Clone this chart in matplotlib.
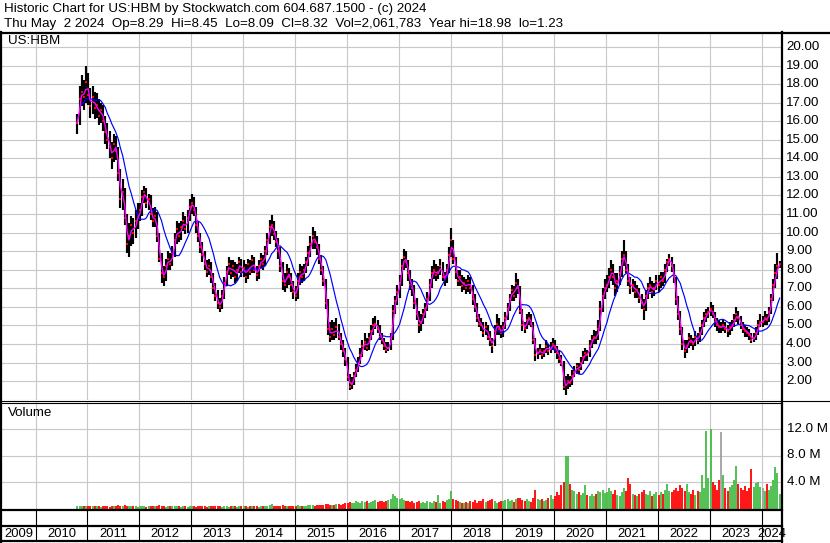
import matplotlib
matplotlib.use('Agg')
import matplotlib.pyplot as plt
import matplotlib.transforms as mtransforms
import matplotlib.dates as mdates
from matplotlib.lines import Line2D
import pandas as pd
import datetime as dt

plt.rcParams['font.family'] = ['Liberation Sans', 'DejaVu Sans']

# ---------------- text ----------------
title_line1 = "Historic Chart for US:HBM by Stockwatch.com 604.687.1500 - (c) 2024"
title_line2 = ("Thu May  2 2024  Op=8.29  Hi=8.45  Lo=8.09  Cl=8.32  "
               "Vol=2,061,783  Year hi=18.98  lo=1.23")
symbol = "US:HBM"
volume_title = "Volume"
year_labels = list(range(2009, 2025))
price_ticks = list(range(2, 21))
vol_ticks = [4.0, 8.0, 12.0]
vol_tick_labels = ["4.0 M", "8.0 M", "12.0 M"]

# ---------------- data (semi-monthly) ----------------
first_date = "2010-10-15"
last_date = "2024-05-01"

close = [
    15.9, 17.2, 17.6, 17.3, 18.1,  # 2010
    17.4, 16.8, 17.3, 16.7, 16.9, 16.3, 16.6, 16.0, 15.4, 15.0, 14.6, 14.0, 14.8, 14.4, 13.2, 11.8, 12.2, 10.8, 9.4, 9.8, 10.4, 10.0, 10.6, 10.9,  # 2011
    11.2, 11.9, 12.2, 11.6, 11.8, 11.0, 10.6, 10.9, 9.8, 8.6, 7.8, 7.6, 8.2, 8.6, 8.3, 8.9, 9.6, 10.2, 9.8, 10.3, 10.6, 10.2, 10.8, 11.4,  # 2012
    11.6, 11.2, 10.4, 9.8, 9.2, 8.8, 8.3, 7.9, 8.2, 7.6, 7.0, 6.6, 6.2, 6.0, 6.6, 7.3, 7.9, 8.3, 7.8, 8.2, 7.6, 8.0, 8.4, 7.9,  # 2013
    8.1, 7.6, 8.3, 7.9, 8.5, 8.0, 7.7, 8.2, 8.6, 8.3, 9.0, 9.6, 10.3, 10.4, 9.9, 9.5, 9.0, 8.2, 7.4, 7.2, 7.9, 7.6, 7.2, 6.8,  # 2014
    6.6, 7.4, 7.9, 7.6, 8.0, 8.4, 8.9, 9.4, 9.8, 9.5, 9.2, 8.6, 8.0, 7.4, 6.2, 4.8, 4.4, 4.8, 4.5, 4.9, 4.4, 4.0, 3.6, 3.2,  # 2015
    2.2, 1.7, 1.9, 2.3, 2.6, 3.0, 3.4, 3.9, 4.1, 3.8, 4.3, 4.7, 5.0, 5.1, 4.8, 4.4, 4.2, 3.9, 3.7, 3.8, 4.3, 5.8, 6.3, 6.8,  # 2016
    7.3, 8.2, 8.7, 8.4, 7.8, 7.2, 7.0, 6.2, 5.6, 5.0, 5.2, 5.6, 5.9, 6.4, 7.2, 7.8, 8.0, 7.7, 7.9, 8.2, 7.6, 7.5, 8.0, 8.8,  # 2017
    9.6, 8.6, 7.9, 7.4, 7.6, 7.1, 7.3, 7.0, 7.4, 7.0, 6.4, 6.0, 5.4, 5.1, 5.0, 4.6, 4.9, 4.4, 4.2, 3.9, 4.7, 5.1, 4.8, 4.6,  # 2018
    4.9, 5.4, 5.9, 6.4, 6.9, 6.6, 7.3, 7.0, 5.8, 5.0, 4.8, 5.3, 5.4, 5.1, 4.2, 3.4, 3.5, 3.7, 3.4, 3.6, 3.9, 3.6, 3.8, 4.0,  # 2019
    3.8, 3.5, 3.2, 3.0, 1.7, 1.8, 2.0, 1.9, 2.3, 2.5, 2.8, 2.6, 3.0, 3.3, 3.5, 3.4, 3.9, 4.2, 4.4, 4.3, 4.8, 5.9, 6.6, 7.0,  # 2020
    7.2, 7.6, 8.0, 7.6, 7.0, 7.4, 7.8, 8.6, 8.8, 8.0, 7.4, 7.0, 7.2, 6.8, 6.9, 6.5, 6.2, 5.9, 6.6, 7.0, 7.2, 6.8, 7.0, 7.4,  # 2021
    7.2, 7.6, 7.4, 8.0, 8.4, 8.6, 8.2, 7.6, 6.4, 5.6, 4.8, 4.0, 3.6, 3.9, 4.3, 4.1, 4.0, 4.4, 4.2, 4.6, 5.0, 5.4, 5.6, 5.7,  # 2022
    5.9, 5.6, 5.2, 5.0, 4.9, 4.9, 5.0, 4.8, 4.7, 4.9, 5.0, 5.3, 5.6, 5.4, 5.0, 4.8, 4.7, 4.6, 4.5, 4.2, 4.3, 4.6, 5.0, 5.2,  # 2023
    5.2, 5.4, 5.3, 5.7, 6.4, 7.2, 7.8, 8.2, 8.32,  # 2024
]

high = [
    16.4, 17.9, 18.5, 18.2, 18.98,
    18.6, 17.8, 17.9, 17.6, 17.5, 17.2, 17.0, 16.9, 16.3, 15.9, 15.5, 14.9, 15.3, 15.2, 14.6, 13.4, 12.9, 12.4, 11.0, 10.5, 10.9, 10.8, 11.2, 11.6,
    11.6, 12.3, 12.5, 12.4, 12.1, 12.0, 11.3, 11.4, 11.1, 10.0, 8.9, 8.2, 8.6, 9.0, 8.9, 9.3, 10.0, 10.6, 10.5, 10.6, 11.1, 10.9, 11.2, 11.8,
    12.1, 11.9, 11.4, 10.6, 10.0, 9.5, 9.0, 8.5, 8.6, 8.4, 7.8, 7.3, 6.9, 6.5, 6.9, 7.6, 8.2, 8.7, 8.5, 8.5, 8.4, 8.3, 8.7, 8.6,
    8.5, 8.3, 8.6, 8.5, 8.8, 8.7, 8.2, 8.5, 8.9, 8.8, 9.3, 10.0, 10.7, 10.95, 10.6, 10.1, 9.7, 9.2, 8.4, 7.8, 8.3, 8.1, 7.8, 7.4,
    7.1, 7.8, 8.3, 8.2, 8.3, 8.7, 9.3, 9.8, 10.3, 10.1, 9.8, 9.4, 8.8, 8.2, 7.5, 6.4, 5.2, 5.3, 5.2, 5.4, 5.1, 4.6, 4.2, 3.8,
    3.3, 2.4, 2.2, 2.5, 2.9, 3.3, 3.8, 4.2, 4.6, 4.3, 4.6, 5.0, 5.4, 5.5, 5.3, 5.0, 4.6, 4.3, 4.1, 4.1, 4.6, 6.1, 6.6, 7.2,
    7.7, 8.6, 9.1, 9.0, 8.5, 8.0, 7.5, 7.2, 6.5, 5.8, 5.6, 5.9, 6.2, 6.8, 7.5, 8.2, 8.5, 8.3, 8.2, 8.6, 8.4, 7.9, 8.3, 9.2,
    10.25, 9.6, 8.7, 8.0, 8.0, 7.7, 7.6, 7.5, 7.7, 7.6, 7.2, 6.7, 6.2, 5.6, 5.4, 5.2, 5.2, 5.0, 4.7, 4.3, 5.0, 5.6, 5.4, 5.0,
    5.2, 5.7, 6.2, 6.7, 7.2, 7.1, 7.8, 7.5, 7.1, 5.9, 5.2, 5.6, 5.7, 5.6, 5.2, 4.3, 3.8, 4.0, 3.8, 3.8, 4.2, 4.0, 4.1, 4.3,
    4.2, 3.9, 3.6, 3.4, 3.1, 2.3, 2.4, 2.3, 2.6, 2.8, 3.0, 3.0, 3.3, 3.6, 3.8, 3.7, 4.2, 4.5, 4.75, 4.7, 5.3, 6.3, 7.0, 7.5,
    7.7, 8.1, 8.5, 8.3, 7.8, 7.8, 8.2, 9.0, 9.6, 9.0, 8.3, 7.6, 7.5, 7.4, 7.2, 7.0, 6.7, 6.4, 6.9, 7.3, 7.6, 7.4, 7.3, 7.7,
    7.7, 7.9, 7.9, 8.3, 8.6, 8.85, 8.7, 8.3, 7.6, 6.6, 5.8, 4.9, 4.2, 4.2, 4.6, 4.5, 4.3, 4.7, 4.6, 4.9, 5.3, 5.7, 5.9, 6.0,
    6.26, 6.1, 5.7, 5.4, 5.3, 5.2, 5.3, 5.2, 5.0, 5.2, 5.3, 5.6, 6.0, 5.8, 5.5, 5.2, 5.0, 4.9, 4.8, 4.6, 4.6, 4.9, 5.3, 5.6,
    5.5, 5.8, 5.6, 6.0, 6.7, 7.5, 8.3, 8.9, 8.45,
]

low = [
    15.3, 15.8, 16.8, 16.6, 17.0,
    16.9, 16.2, 16.4, 16.1, 16.2, 15.8, 15.9, 15.5, 14.8, 14.5, 14.0, 13.4, 13.8, 13.9, 12.8, 11.3, 11.2, 10.4, 8.9, 8.7, 9.3, 9.4, 9.7, 10.2,
    10.6, 10.9, 11.6, 11.3, 11.2, 10.7, 10.3, 10.3, 9.5, 8.4, 7.3, 7.1, 7.4, 8.0, 8.0, 8.2, 8.7, 9.4, 9.5, 9.6, 10.1, 9.9, 10.0, 10.6,
    11.0, 10.9, 10.0, 9.5, 8.9, 8.4, 8.0, 7.6, 7.7, 7.3, 6.7, 6.3, 5.9, 5.7, 5.9, 6.4, 7.1, 7.7, 7.5, 7.6, 7.3, 7.4, 7.8, 7.6,
    7.6, 7.3, 7.5, 7.7, 7.8, 7.8, 7.4, 7.5, 8.1, 8.0, 8.2, 8.8, 9.4, 9.8, 9.6, 9.2, 8.6, 7.9, 6.9, 6.8, 7.0, 7.2, 6.8, 6.4,
    6.3, 6.4, 7.2, 7.3, 7.4, 7.8, 8.2, 8.7, 9.1, 9.1, 8.8, 8.3, 7.7, 7.1, 5.9, 4.5, 4.1, 4.2, 4.2, 4.3, 4.2, 3.7, 3.3, 2.8,
    2.0, 1.5, 1.6, 1.8, 2.2, 2.5, 2.9, 3.3, 3.7, 3.6, 3.7, 4.2, 4.5, 4.8, 4.6, 4.2, 4.0, 3.7, 3.5, 3.6, 3.7, 4.2, 5.6, 6.1,
    6.5, 7.1, 8.0, 8.1, 7.4, 6.9, 6.6, 5.9, 5.3, 4.6, 4.7, 5.1, 5.4, 5.8, 6.3, 7.0, 7.5, 7.4, 7.5, 7.7, 7.4, 7.1, 7.3, 7.8,
    8.7, 8.3, 7.5, 7.1, 7.1, 6.8, 6.9, 6.7, 6.8, 6.7, 6.1, 5.7, 5.2, 4.9, 4.7, 4.4, 4.5, 4.2, 3.9, 3.5, 3.9, 4.5, 4.5, 4.3,
    4.4, 4.8, 5.3, 5.8, 6.3, 6.3, 6.5, 6.7, 5.6, 4.7, 4.6, 4.8, 5.0, 4.9, 4.0, 3.1, 3.2, 3.4, 3.2, 3.3, 3.5, 3.4, 3.5, 3.7,
    3.5, 3.2, 3.0, 2.8, 1.5, 1.25, 1.6, 1.7, 1.8, 2.2, 2.4, 2.4, 2.6, 2.9, 3.1, 3.1, 3.3, 3.8, 4.0, 4.0, 4.2, 4.7, 5.7, 6.4,
    6.8, 7.0, 7.4, 7.2, 6.6, 6.8, 7.2, 7.6, 8.2, 7.8, 7.1, 6.7, 6.8, 6.5, 6.5, 6.2, 5.9, 5.3, 5.8, 6.4, 6.8, 6.5, 6.6, 6.9,
    6.8, 7.0, 7.1, 7.3, 7.9, 8.2, 7.9, 7.3, 6.1, 5.3, 4.5, 3.7, 3.25, 3.5, 3.8, 3.9, 3.7, 3.9, 4.0, 4.1, 4.5, 4.9, 5.2, 5.4,
    5.5, 5.4, 4.9, 4.7, 4.6, 4.6, 4.7, 4.6, 4.4, 4.5, 4.7, 4.9, 5.2, 5.1, 4.8, 4.6, 4.4, 4.4, 4.2, 4.05, 4.1, 4.2, 4.5, 4.9,
    4.9, 5.0, 5.0, 5.2, 5.6, 6.3, 7.0, 7.5, 8.09,
]

volume_m = [
    0.25, 0.35, 0.3, 0.25, 0.3,
    0.3, 0.25, 0.3, 0.35, 0.3, 0.25, 0.2, 0.3, 0.25, 0.3, 0.2, 0.25, 0.3, 0.25, 0.4, 0.35, 0.3, 0.4, 0.35, 0.3, 0.25, 0.3, 0.25, 0.2,
    0.3, 0.25, 0.3, 0.2, 0.25, 0.3, 0.35, 0.25, 0.3, 0.4, 0.3, 0.25, 0.2, 0.3, 0.25, 0.3, 0.35, 0.3, 0.25, 0.2, 0.3, 0.25, 0.2, 0.3,
    0.25, 0.3, 0.2, 0.25, 0.3, 0.25, 0.3, 0.2, 0.25, 0.3, 0.35, 0.3, 0.25, 0.3, 0.2, 0.25, 0.3, 0.2, 0.25, 0.3, 0.25, 0.2, 0.3, 0.25,
    0.3, 0.25, 0.2, 0.3, 0.25, 0.3, 0.25, 0.2, 0.3, 0.25, 0.3, 0.35, 0.4, 0.6, 0.35, 0.3, 0.3, 0.35, 0.4, 0.3, 0.35, 0.3, 0.35, 0.3,
    0.35, 0.4, 0.3, 0.35, 0.3, 0.35, 0.4, 0.45, 0.4, 0.35, 0.4, 0.4, 0.45, 0.5, 0.6, 0.55, 0.5, 0.45, 0.5, 0.55, 0.6, 0.5, 0.6, 0.7,
    0.8, 0.9, 0.7, 0.8, 1.0, 0.9, 0.8, 1.0, 0.9, 1.1, 0.8, 0.9, 1.0, 1.2, 0.9, 1.0, 1.1, 0.9, 1.0, 1.2, 1.4, 2.2, 1.8, 1.6,
    1.3, 1.5, 1.2, 1.0, 1.1, 0.9, 1.0, 0.8, 0.9, 1.1, 0.8, 0.9, 0.8, 1.0, 0.9, 0.8, 1.0, 0.9, 2.0, 0.8, 1.0, 0.9, 1.2, 1.4,
    2.6, 1.4, 1.2, 1.0, 0.9, 0.8, 0.7, 0.9, 0.8, 1.0, 0.9, 1.2, 0.8, 1.1, 1.0, 1.3, 0.9, 1.0, 1.2, 1.4, 1.0, 0.8, 0.9, 1.1,
    1.0, 1.2, 1.4, 1.1, 1.2, 0.9, 1.3, 1.5, 1.6, 1.2, 1.0, 1.3, 1.1, 0.9, 1.6, 2.7, 1.4, 1.2, 1.3, 1.0, 1.2, 1.6, 2.0, 1.4,
    1.8, 2.4, 2.0, 3.5, 4.0, 7.9, 7.9, 3.7, 2.8, 2.6, 2.2, 2.5, 2.0, 2.3, 3.5, 2.0, 1.8, 2.1, 1.9, 2.2, 2.6, 2.4, 2.8, 2.3,
    2.4, 3.0, 2.6, 2.2, 2.8, 2.0, 1.8, 2.4, 3.0, 2.6, 4.6, 3.7, 2.2, 2.0, 1.8, 2.2, 2.4, 2.8, 2.2, 2.0, 2.6, 1.8, 2.2, 2.4,
    2.0, 2.4, 2.2, 2.8, 3.7, 2.6, 2.4, 2.8, 3.0, 2.6, 3.5, 3.0, 2.6, 3.7, 2.4, 2.2, 2.8, 2.0, 2.6, 2.4, 5.0, 3.0, 11.7, 4.5,
    12.0, 4.0, 3.5, 2.8, 4.2, 11.6, 5.0, 3.0, 2.6, 3.2, 3.5, 4.2, 6.4, 3.6, 3.0, 2.8, 3.4, 2.6, 3.0, 6.0, 3.2, 3.8, 4.0, 3.2,
    3.0, 2.6, 3.7, 2.8, 3.4, 4.2, 6.2, 5.3, 2.1,
]

# ---------------- geometry ----------------
W, H = 830, 543
fig = plt.figure(figsize=(W / 100, H / 100), dpi=100)
fig.patch.set_facecolor('white')

def fx(px):
    return px / W

def fy(py):
    return 1 - py / H

X0, X1 = 2, 781
P_TOP, P_BOT = 33, 400
V_TOP, V_BOT = 402, 509

dates = pd.date_range(first_date, last_date, freq='SMS') + pd.Timedelta(days=5)
s_close = pd.Series(close, index=dates)
ma_short = s_close.rolling(2, min_periods=1).mean()
ma_long = s_close.rolling(10, min_periods=3).mean()

xlim = (dt.datetime(2009, 5, 9), dt.datetime(2024, 5, 15))
x0n, x1n = mdates.date2num(xlim[0]), mdates.date2num(xlim[1])
year_starts = [dt.datetime(y, 1, 1) for y in range(2010, 2025)]
grid_c = '#c8c8c8'

# ---- price panel ----
ax = fig.add_axes([fx(X0), fy(P_BOT), (X1 - X0) / W, (P_BOT - P_TOP) / H])
ax.set_xlim(x0n, x1n)
ax.set_ylim(0.981, 20.754)
for v in range(1, 21):
    ax.axhline(v, color=grid_c, lw=0.8, zorder=0)
for d in year_starts:
    ax.axvline(mdates.date2num(d), color=grid_c, lw=0.8, zorder=0)
xd = mdates.date2num(dates.to_pydatetime())
ax.vlines(xd, low, high, color='black', lw=1.55, zorder=2)
ax.plot(xd, close, ls='none', marker='s', ms=1.6, mew=0, color='red', zorder=3)
ax.plot(xd, ma_long.values, color='#0000ff', lw=0.85, zorder=4)
ax.plot(xd, ma_short.values, color='#ff00ff', lw=1.0, zorder=5)
ax.axis('off')

# ---- volume panel ----
axv = fig.add_axes([fx(X0), fy(V_BOT), (X1 - X0) / W, (V_BOT - V_TOP) / H])
axv.set_xlim(x0n, x1n)
vbase = -0.15
axv.set_ylim(vbase, 16.15)
for v in vol_ticks:
    axv.axhline(v, color=grid_c, lw=0.8, zorder=0)
for d in year_starts:
    axv.axvline(mdates.date2num(d), color=grid_c, lw=0.8, zorder=0)
vcolors = []
for i, c in enumerate(close):
    if i == 0 or c > close[i - 1]:
        vcolors.append('#44bb44')
    elif c < close[i - 1]:
        vcolors.append('#ff0000')
    else:
        vcolors.append('#a0a0a0')
axv.vlines(xd, vbase, volume_m, colors=vcolors, lw=1.3, zorder=2)
axv.axis('off')

# ---- tick labels on the right ----
tp = mtransforms.blended_transform_factory(fig.transFigure, ax.transData)
for v in price_ticks:
    fig.text(fx(786), v, f"{v:.2f}", transform=tp, ha='left', va='center',
             fontsize=9.6, color='black')
tv = mtransforms.blended_transform_factory(fig.transFigure, axv.transData)
for v, lab in zip(vol_ticks, vol_tick_labels):
    fig.text(fx(787), v, lab, transform=tv, ha='left', va='center',
             fontsize=9.6, color='black')

# ---- header ----
fig.text(fx(4), fy(9), title_line1, ha='left', va='center', fontsize=9.6)
fig.text(fx(4), fy(24), title_line2, ha='left', va='center', fontsize=9.6)
fig.text(fx(8), fy(41), symbol, ha='left', va='center', fontsize=9.6)
fig.text(fx(8), fy(413), volume_title, ha='left', va='center', fontsize=9.6)

# ---- frame lines ----
def hline(py, x0, x1, lw):
    fig.add_artist(Line2D([fx(x0), fx(x1)], [fy(py), fy(py)],
                          transform=fig.transFigure, color='black', lw=lw))

def vline(px, y0, y1, lw):
    fig.add_artist(Line2D([fx(px), fx(px)], [fy(y0), fy(y1)],
                          transform=fig.transFigure, color='black', lw=lw))

hline(32.5, 0, 830, 1.6)
hline(400.5, 0, 830, 0.8)
hline(402.5, 0, 782, 0.8)
hline(509.5, 0, 782, 1.6)
hline(526, 0, 782, 1.6)
hline(541, 0, 782, 1.6)
vline(1, 32, 542, 1.6)
vline(782, 32, 543, 1.6)

# ---- year band ----
tb = mtransforms.blended_transform_factory(ax.transData, fig.transFigure)
for d in year_starts:
    dn = mdates.date2num(d)
    fig.add_artist(Line2D([dn, dn], [fy(510), fy(541)], transform=tb,
                          color='black', lw=0.8))
for y in year_labels:
    a = max(mdates.date2num(dt.datetime(y, 1, 1)), x0n)
    b = min(mdates.date2num(dt.datetime(y + 1, 1, 1)), x1n)
    fig.text((a + b) / 2, fy(534), str(y), transform=tb, ha='center',
             va='center', fontsize=9.4)

fig.savefig('out.png', dpi=100, facecolor='white')
